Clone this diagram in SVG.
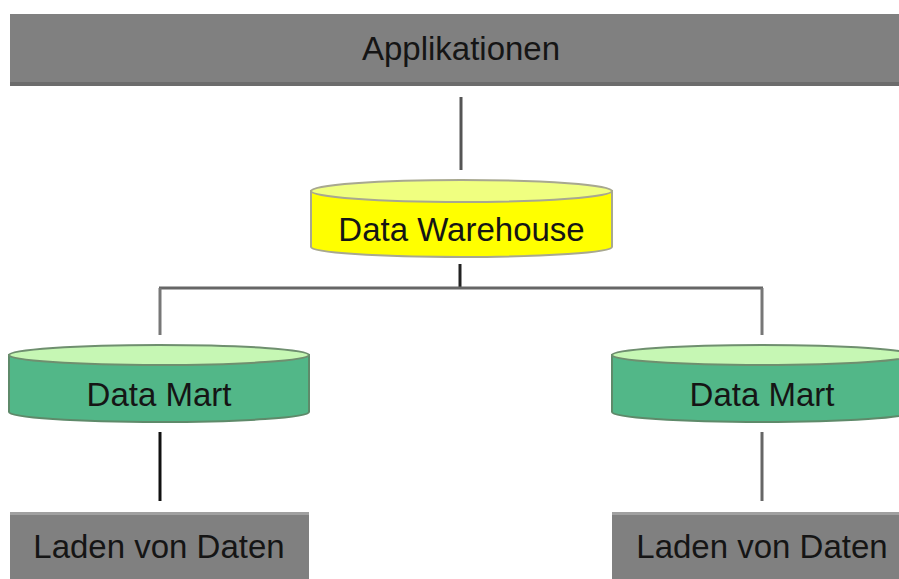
<svg xmlns="http://www.w3.org/2000/svg" width="899" height="579" viewBox="0 0 899 579">
  <style>
    .label { font-family: "Liberation Sans", Arial, sans-serif; font-size: 33px; fill: #151515; text-anchor: middle; }
    .box { fill: #808080; }
    .link { fill: none; stroke-width: 3; }
    .dw-body { fill: #ffff00; stroke: #a8a890; stroke-width: 2; }
    .dw-cap { fill: #f0ff80; stroke: #a8a890; stroke-width: 2; }
    .dm-body { fill: #52b788; stroke: #5e8a6a; stroke-width: 2; }
    .dm-cap { fill: #c6f7b4; stroke: #6f8f6f; stroke-width: 2; }
  </style>

  <rect width="899" height="579" fill="#ffffff"/>

  <!-- connectors -->
  <g id="connectors">
    <line class="link" x1="461" y1="97" x2="461" y2="170" stroke="#555555" stroke-width="2.5"/>
    <line class="link" x1="460" y1="264" x2="460" y2="288" stroke="#222222"/>
    <line class="link" x1="159" y1="288" x2="763" y2="288" stroke="#666666"/>
    <line class="link" x1="160" y1="288" x2="160" y2="335" stroke="#777777"/>
    <line class="link" x1="762" y1="288" x2="762" y2="335" stroke="#777777"/>
    <line class="link" x1="160" y1="432" x2="160" y2="501" stroke="#111111"/>
    <line class="link" x1="762" y1="432" x2="762" y2="501" stroke="#666666"/>
  </g>

  <!-- top application layer -->
  <g id="applikationen">
    <rect class="box" x="10" y="14" width="900" height="72"/>
    <rect x="10" y="82" width="900" height="4" fill="#6c6c6c"/>
    <text class="label" x="461" y="60">Applikationen</text>
  </g>

  <!-- central warehouse -->
  <g id="data-warehouse">
    <path class="dw-body" d="M311,191 L311,247 A150.5,10 0 0 0 612,247 L612,191 Z"/>
    <ellipse class="dw-cap" cx="461.5" cy="191" rx="150.5" ry="11"/>
    <text class="label" x="461.5" y="241">Data Warehouse</text>
  </g>

  <!-- data marts -->
  <g id="data-mart-left">
    <path class="dm-body" d="M9,355 L9,412 A150,10 0 0 0 309,412 L309,355 Z"/>
    <ellipse class="dm-cap" cx="159" cy="355" rx="150" ry="10"/>
    <text class="label" x="159" y="406">Data Mart</text>
  </g>
  <g id="data-mart-right">
    <path class="dm-body" d="M612,355 L612,412 A150,10 0 0 0 912,412 L912,355 Z"/>
    <ellipse class="dm-cap" cx="762" cy="355" rx="150" ry="10"/>
    <text class="label" x="762" y="406">Data Mart</text>
  </g>

  <!-- loading layer -->
  <g id="laden-left">
    <rect class="box" x="10" y="512" width="299" height="70"/>
    <rect x="10" y="512" width="299" height="3" fill="#a0a0a0"/>
    <text class="label" x="159" y="558">Laden von Daten</text>
  </g>
  <g id="laden-right">
    <rect class="box" x="612" y="512" width="300" height="70"/>
    <rect x="612" y="512" width="300" height="3" fill="#a0a0a0"/>
    <text class="label" x="762" y="558">Laden von Daten</text>
  </g>
</svg>
